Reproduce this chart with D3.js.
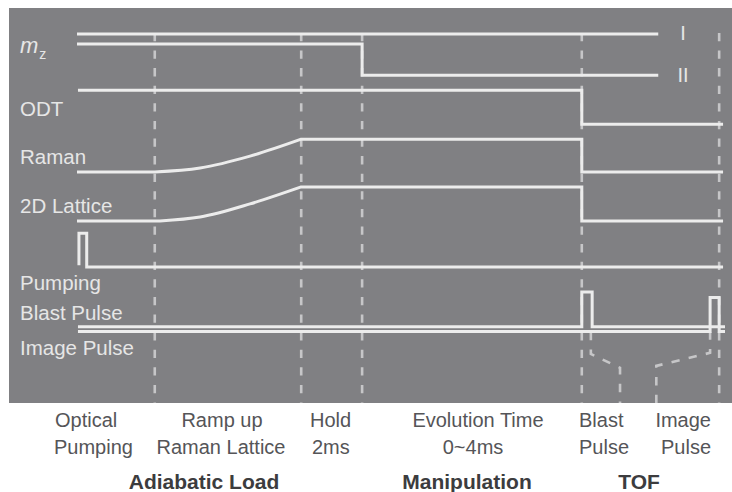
<!DOCTYPE html>
<html>
<head>
<meta charset="utf-8">
<script src="https://cdn.jsdelivr.net/npm/d3@7"></script>
<style>
  html, body { margin: 0; padding: 0; background: #ffffff; }
  svg { display: block; font-family: "Liberation Sans", Arial, Helvetica, sans-serif; }
</style>
</head>
<body>
<svg id="chart" width="732" height="492"></svg>
<script>
// ---- sequence data (time in sequence units, level in % of panel height) ----
const stageBoundaries = [12.0, 34.6, 44.0, 77.9, 99.1];

const mzUpper   = [[0, 93.4], [89.7, 93.4]];
const mzLower   = [[0, 90.9], [44.0, 90.9], [44.0, 83.0], [89.7, 83.0]];
const odtLevel  = [[0.15, 79.2], [77.9, 79.2], [77.9, 70.6], [99.7, 70.6]];
const ramanLevel   = [[0, 58.5], [12.0, 58.5], [19.0, 59.5], [26.7, 62.5], [34.6, 66.8],
                      [77.9, 66.8], [77.9, 58.5], [99.7, 58.5]];
const latticeLevel = [[0, 46.1], [12.8, 46.1], [19.0, 47.1], [26.7, 50.4], [34.6, 54.7],
                      [77.9, 54.7], [77.9, 46.1], [99.7, 46.1]];
const rampSpan     = [1, 4];   // point indices of the adiabatic ramp
const pumpingLevel = [[0.3, 34.9], [0.3, 43.0], [1.5, 43.0], [1.5, 34.4], [99.7, 34.4]];
const blastLevel   = [[0.15, 19.3], [77.9, 19.3], [77.9, 28.1], [79.5, 28.1], [79.5, 19.3], [100, 19.3]];
const imageLevel   = [[0.15, 18.1], [97.7, 18.1], [97.7, 26.7], [99.1, 26.7], [99.1, 18.1], [100, 18.1]];

// time-of-flight brackets
const tofLeft  = [[79.3, 18.0], [79.3, 12.4], [83.8, 8.9], [83.8, 0]];
const tofRight = [[89.4, 0], [89.4, 9.4], [97.7, 12.7], [97.7, 18.0]];

const channelNames = ["ODT", "Raman", "2D Lattice", "Pumping", "Blast Pulse", "Image Pulse"];
const stateNames   = ["I", "II"];
const stepLines1   = ["Optical", "Ramp up", "Hold", "Evolution Time", "Blast", "Image"];
const stepLines2   = ["Pumping", "Raman Lattice", "2ms", "0~4ms", "Pulse", "Pulse"];
const phaseNames   = ["Adiabatic Load", "Manipulation", "TOF"];

// ---- layout ----
const panel = { x: 9, y: 8, w: 723, h: 395 };
const svg = d3.select("#chart");

const x = d3.scaleLinear().domain([0, 100]).range([77, 725]);
const y = d3.scaleLinear().domain([0, 100]).range([panel.y + panel.h, panel.y]);

const lineColor = "#ececec";
const dashColor = "#c6c6c8";
const labelColor = "#e6e6e6";

svg.append("rect")
  .attr("x", panel.x).attr("y", panel.y)
  .attr("width", panel.w).attr("height", panel.h)
  .attr("fill", "#808083");

const linear = d3.line().x(d => x(d[0])).y(d => y(d[1]));
const smooth = d3.line().x(d => x(d[0])).y(d => y(d[1])).curve(d3.curveMonotoneX);

// stage boundaries (dashed)
const dash = "8.3,9.3";
svg.append("g").selectAll("line")
  .data(stageBoundaries).join("line")
  .attr("x1", d => x(d)).attr("x2", d => x(d))
  .attr("y1", y(93.7)).attr("y2", y(0))
  .attr("stroke", dashColor).attr("stroke-width", 2.6)
  .attr("stroke-dasharray", dash);

svg.append("g").selectAll("path")
  .data([tofLeft, tofRight]).join("path")
  .attr("d", linear)
  .attr("fill", "none")
  .attr("stroke", dashColor).attr("stroke-width", 2.6)
  .attr("stroke-dasharray", dash);

// control waveforms
function withRamp(pts) {
  const [a, b] = rampSpan;
  return linear(pts.slice(0, a + 1)) +
         smooth(pts.slice(a, b + 1)).replace(/^M/, "L") +
         linear(pts.slice(b)).replace(/^M/, "L");
}

const traces = [
  linear(mzUpper), linear(mzLower), linear(odtLevel),
  withRamp(ramanLevel), withRamp(latticeLevel),
  linear(pumpingLevel), linear(blastLevel), linear(imageLevel)
];

svg.append("g").selectAll("path")
  .data(traces).join("path")
  .attr("d", d => d)
  .attr("fill", "none")
  .attr("stroke", lineColor)
  .attr("stroke-width", 3)
  .attr("stroke-linejoin", "miter")
  .attr("stroke-linecap", "butt");

// channel labels
const mz = svg.append("text")
  .attr("x", 20).attr("y", 53)
  .attr("fill", labelColor)
  .attr("font-size", 22);
mz.append("tspan").attr("font-style", "italic").text("m");
mz.append("tspan").attr("font-size", 14).attr("dy", 6).attr("dx", 1).text("z");

const labelBaselines = [116, 164, 213, 290, 320, 355];
svg.append("g").selectAll("text")
  .data(channelNames).join("text")
  .attr("x", 20)
  .attr("y", (d, i) => labelBaselines[i])
  .attr("fill", labelColor)
  .attr("font-size", 20.5)
  .text(d => d);

const stateY = [39.5, 81.7];
svg.append("g").selectAll("text")
  .data(stateNames).join("text")
  .attr("x", 683)
  .attr("y", (d, i) => stateY[i])
  .attr("text-anchor", "middle")
  .attr("fill", labelColor)
  .attr("font-size", 20)
  .text(d => d);

// step captions below the panel
const stepPos = [
  { x1: 55, a1: "start", x2: 54, a2: "start" },
  { x1: 222, a1: "middle", x2: 221, a2: "middle" },
  { x1: 310, a1: "start", x2: 312, a2: "start" },
  { x1: 478, a1: "middle", x2: 473, a2: "middle" },
  { x1: 579, a1: "start", x2: 579, a2: "start" },
  { x1: 711, a1: "end", x2: 711, a2: "end" }
];
const caps = svg.append("g").attr("fill", "#555558").attr("font-size", 20);
caps.selectAll("text.l1").data(stepLines1).join("text")
  .attr("class", "l1")
  .attr("x", (d, i) => stepPos[i].x1)
  .attr("text-anchor", (d, i) => stepPos[i].a1)
  .attr("y", 427)
  .text(d => d);
caps.selectAll("text.l2").data(stepLines2).join("text")
  .attr("class", "l2")
  .attr("x", (d, i) => stepPos[i].x2)
  .attr("text-anchor", (d, i) => stepPos[i].a2)
  .attr("y", 454)
  .text(d => d);

const phaseX = [204, 467, 639];
svg.append("g").selectAll("text")
  .data(phaseNames).join("text")
  .attr("x", (d, i) => phaseX[i])
  .attr("y", 489)
  .attr("text-anchor", "middle")
  .attr("fill", "#3c3c3e")
  .attr("font-size", 21)
  .attr("font-weight", "bold")
  .text(d => d);
</script>
</body>
</html>
